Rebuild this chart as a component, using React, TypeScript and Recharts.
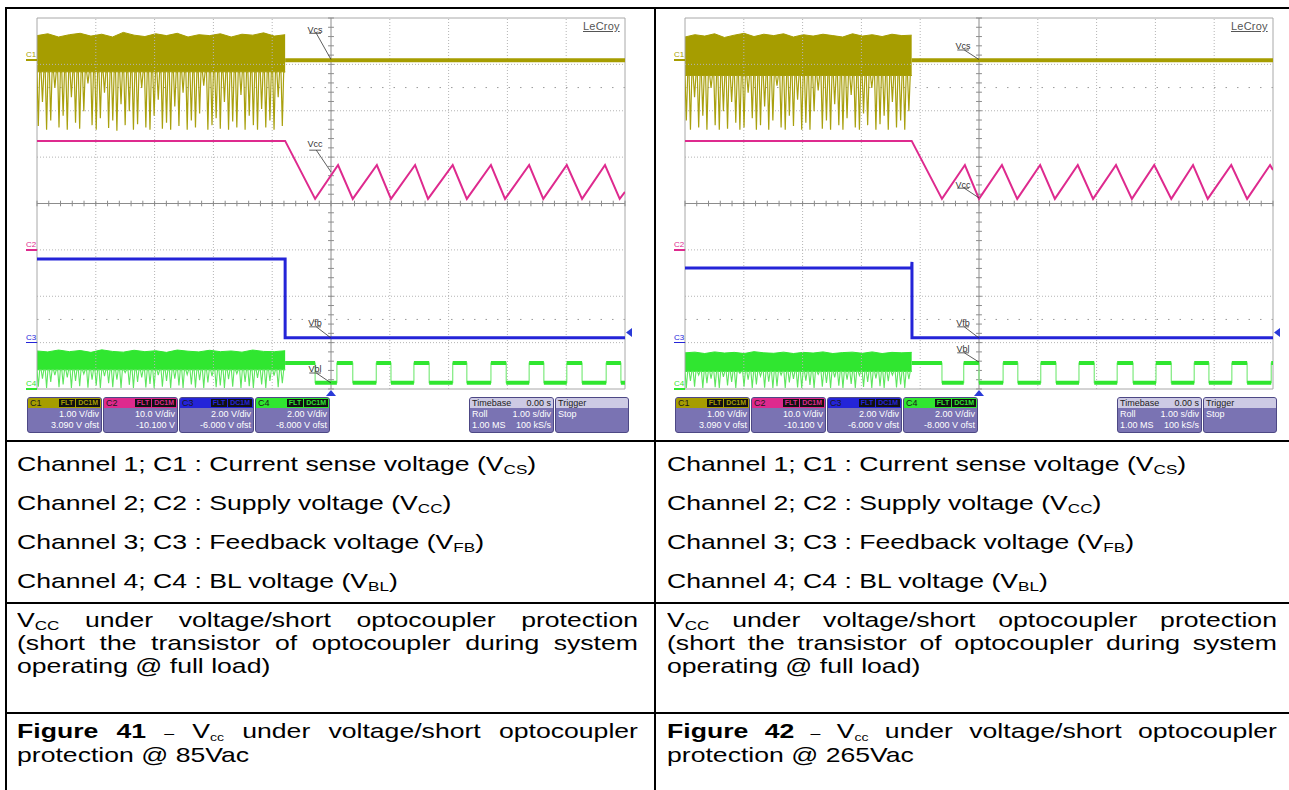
import { ComposedChart, Line, Area, XAxis, YAxis, ReferenceLine, ReferenceDot } from "recharts";

// LeCroy channel settings (as shown in the channel boxes)
const channelNames = ["C1", "C2", "C3", "C4"];
const voltsPerDiv = [1, 10, 2, 2];
const offsetVolts = [3.09, -10.1, -6, -8];
const voltsPerDivText = ["1.00 V/div", "10.0 V/div", "2.00 V/div", "2.00 V/div"];
const offsetText = ["3.090 V ofst", "-10.100 V", "-6.000 V ofst", "-8.000 V ofst"];
const traceColors = ["#a69d00", "#de2a8e", "#2424d8", "#30e630"];

// roll mode, 1 s/div, trigger in the middle
const timeDomain = [-5, 5];
const vcsIdle = 0;
const blLevels = [1.12, 0.27]; // BL on / off (V)

// ---- Figure 41 : 85Vac ----
const f41BurstEnd = -0.78;
const f41VcsTop = [0.53, 0.57, 0.5, 0.55, 0.58, 0.52, 0.56, 0.5, 0.6, 0.54, 0.51, 0.57, 0.53, 0.58, 0.5, 0.55, 0.53, 0.57, 0.5, 0.56, 0.54, 0.59, 0.52, 0.55];
const f41VcsCore = -0.25;
const f41VcsLow = [
  -1.42, -0.9, -1.5, -1.3, -0.6, -1.45, -1.2, -1.5, -0.8, -1.35,
  -1.48, -1.1, -0.5, -1.4, -1.5, -1.25, -0.7, -1.46, -1.3, -1.52,
  -0.95, -1.4, -1.1, -1.5, -1.38, -0.6, -1.45, -1.5, -1.2, -0.85,
  -1.48, -1.35, -1.5, -1.0, -1.42, -0.7, -1.5, -1.3, -1.45, -1.15,
  -0.55, -1.5, -1.4, -1.25, -1.48, -0.9, -1.5, -1.32, -1.45, -0.75,
  -1.5, -1.2, -1.4, -1.5, -1.05, -1.45, -1.3, -1.5, -0.8, -1.42,
];
const f41Vcc = [
  [-5, 23.6], [-0.78, 23.6], [-0.27, 11.1], [0.12, 18.4], [0.37, 11.1], [0.78, 18.4], [1.02, 11.1],
  [1.43, 18.4], [1.65, 11.1], [2.07, 18.4], [2.31, 11.1], [2.72, 18.4], [2.96, 11.1], [3.37, 18.4],
  [3.61, 11.1], [4.01, 18.4], [4.27, 11.1], [4.66, 18.4], [4.91, 11.1], [5, 12.6],
];
const f41Vfb = [[-5, 3.61], [-0.78, 3.61], [-0.78, 0.21], [5, 0.21]];
const f41BlTop = [1.64, 1.6, 1.68, 1.61, 1.66, 1.58, 1.69, 1.62, 1.59, 1.67, 1.61, 1.65, 1.58, 1.68, 1.63, 1.6, 1.67, 1.61, 1.64, 1.59, 1.68, 1.62, 1.61, 1.65];
const f41BlCore = 0.83;
const f41BlLow = [
  0.1, 0.45, 0.05, 0.3, 0.6, 0.08, 0.2, 0.5, 0.05, 0.35,
  0.12, 0.65, 0.06, 0.4, 0.15, 0.05, 0.55, 0.25, 0.08, 0.4,
  0.05, 0.7, 0.18, 0.05, 0.3, 0.5, 0.07, 0.22, 0.05, 0.6,
  0.1, 0.35, 0.05, 0.45, 0.15, 0.05, 0.62, 0.2, 0.06, 0.38,
  0.05, 0.28, 0.55, 0.08, 0.15, 0.05, 0.42, 0.1, 0.66, 0.05,
  0.3, 0.12, 0.05, 0.48, 0.2, 0.05, 0.35, 0.58, 0.08, 0.25,
];
const f41BlOn = [[-0.78, -0.27], [0.1, 0.37], [0.77, 1.02], [1.41, 1.67], [2.07, 2.31], [2.72, 2.98], [3.37, 3.62], [4.01, 4.27], [4.68, 4.93]];

// ---- Figure 42 : 265Vac ----
const f42BurstEnd = -1.145;
const f42VcsTop = [0.5, 0.55, 0.52, 0.57, 0.49, 0.54, 0.58, 0.51, 0.56, 0.53, 0.57, 0.5, 0.55, 0.52, 0.56, 0.53, 0.5, 0.57, 0.52, 0.55, 0.51, 0.56, 0.53, 0.54];
const f42VcsCore = -0.33;
const f42VcsLow = [
  -1.3, -1.5, -0.8, -1.45, -1.2, -1.5, -0.6, -1.4, -1.5, -1.1,
  -1.48, -0.9, -1.35, -1.5, -1.45, -0.7, -1.25, -1.5, -1.4, -1.0,
  -1.5, -1.3, -0.55, -1.45, -1.5, -1.2, -1.42, -0.85, -1.5, -1.35,
  -1.5, -1.1, -0.65, -1.48, -1.3, -1.5, -0.95, -1.4, -1.5, -1.25,
  -0.75, -1.45, -1.5, -1.15, -1.4, -0.6, -1.5, -1.38, -1.2, -1.5,
  -0.9, -1.45, -1.3, -1.5, -1.1,
];
const f42Vcc = [
  [-5, 23.6], [-1.145, 23.6], [-0.63, 11.1], [-0.24, 18.4], [0, 11.1], [0.39, 18.4], [0.65, 11.1],
  [1.04, 18.4], [1.29, 11.1], [1.68, 18.4], [1.94, 11.1], [2.33, 18.4], [2.6, 11.1], [2.98, 18.4],
  [3.27, 11.1], [3.64, 18.4], [3.89, 11.1], [4.29, 18.4], [4.56, 11.1], [4.95, 18.4], [5, 17.3],
];
const f42Vfb = [[-5, 3.22], [-1.145, 3.22], [-1.14, 3.48], [-1.14, 0.21], [5, 0.21]];
const f42BlTop = [1.56, 1.59, 1.53, 1.6, 1.55, 1.58, 1.53, 1.61, 1.56, 1.54, 1.59, 1.53, 1.58, 1.55, 1.6, 1.53, 1.57, 1.59, 1.54, 1.6, 1.53, 1.58, 1.56, 1.58];
const f42BlCore = 0.76;
const f42BlLow = [
  0.05, 0.35, 0.1, 0.6, 0.05, 0.25, 0.45, 0.08, 0.05, 0.52,
  0.15, 0.3, 0.05, 0.68, 0.1, 0.4, 0.05, 0.2, 0.55, 0.06,
  0.32, 0.05, 0.12, 0.6, 0.05, 0.28, 0.44, 0.07, 0.05, 0.36,
  0.18, 0.05, 0.63, 0.1, 0.26, 0.05, 0.5, 0.14, 0.05, 0.4,
  0.22, 0.05, 0.58, 0.09, 0.3, 0.05, 0.46, 0.12, 0.05, 0.34,
  0.6, 0.07, 0.2, 0.05, 0.42,
];
const f42BlOn = [[-1.145, -0.63], [-0.26, 0], [0.41, 0.66], [1.05, 1.31], [1.7, 1.96], [2.35, 2.62], [3.01, 3.27], [3.66, 3.91], [4.3, 4.56], [4.97, 5]];

// trace labels on the screen (y in divisions from the bottom)
const f41Notes = [
  { text: "Vcs", yText: 7.75, y0: 7.67, y1: 7.105 },
  { text: "Vcc", yText: 5.28, y0: 5.15, y1: 4.68 },
  { text: "Vfb", yText: 1.42, y0: 1.34, y1: 1.1 },
  { text: "Vbl", yText: 0.44, y0: 0.345, y1: 0.13 },
];
const f42Notes = [
  { text: "Vcs", yText: 7.39, y0: 7.31, y1: 7.105 },
  { text: "Vcc", yText: 4.41, y0: 4.33, y1: 4.12 },
  { text: "Vfb", yText: 1.42, y0: 1.34, y1: 1.1 },
  { text: "Vbl", yText: 0.86, y0: 0.78, y1: 0.58 },
];

const fig41 = { burstEnd: f41BurstEnd, vcsTop: f41VcsTop, vcsCore: f41VcsCore, vcsLow: f41VcsLow, vcc: f41Vcc, vfb: f41Vfb, blTop: f41BlTop, blCore: f41BlCore, blLow: f41BlLow, blOn: f41BlOn, notes: f41Notes };
const fig42 = { burstEnd: f42BurstEnd, vcsTop: f42VcsTop, vcsCore: f42VcsCore, vcsLow: f42VcsLow, vcc: f42Vcc, vfb: f42Vfb, blTop: f42BlTop, blCore: f42BlCore, blLow: f42BlLow, blOn: f42BlOn, notes: f42Notes };

const toPts = (pairs: number[][]) => pairs.map(([t, v]) => ({ t, v }));

// switching burst: solid core between core level and the top envelope
const band = (start: number, end: number, core: number, tops: number[]) => {
  const dt = (end - start) / (tops.length - 1);
  return tops.map((hi, j) => ({ t: start + j * dt, v: [core, hi] }));
};
// ...and the spikes below the core, one per sample
const spikes = (start: number, end: number, core: number, lows: number[]) => {
  const dt = (end - start) / lows.length;
  const pts: any[] = [];
  lows.forEach((lo, i) => {
    const t0 = start + i * dt;
    pts.push({ t: t0, v: core }, { t: t0 + 0.32 * dt, v: lo }, { t: t0 + 0.65 * dt, v: core });
  });
  pts.push({ t: end, v: core });
  return pts;
};
const pulseEdges = (on: number[][], hi: number, lo: number) => {
  const pts: any[] = [];
  on.forEach(([a, b], i) => {
    if (i > 0) pts.push({ t: a, v: lo });
    pts.push({ t: a, v: hi }, { t: b, v: hi });
    if (b < 5) pts.push({ t: b, v: lo });
  });
  if (on[on.length - 1][1] < 5) pts.push({ t: 5, v: lo });
  return pts;
};
const pulseFlats = (on: number[][], hi: number, lo: number) => {
  const pts: any[] = [];
  on.forEach(([a, b], i) => {
    pts.push({ t: a, v: hi }, { t: b, v: hi }, { t: b, v: null });
    const next = i + 1 < on.length ? on[i + 1][0] : 5;
    if (next > b) pts.push({ t: b, v: lo }, { t: next, v: lo }, { t: next, v: null });
  });
  return pts;
};

const PX = { left: 37, top: 18, w: 588, h: 371 };
const divY = (d: number) => PX.top + (8 - d) * (PX.h / 8);

const xGrid = [-4, -3, -2, -1, 1, 2, 3, 4];
const yGrid = [1, 2, 3, 5, 6, 7];
const xTicks: number[] = [];
for (let k = -25; k <= 25; k++) xTicks.push(k / 5);
const yTicks: number[] = [];
for (let k = 0; k <= 40; k++) yTicks.push(k / 5);

const lineProps = { type: "linear" as const, dot: false, activeDot: false, isAnimationActive: false, xAxisId: 0 };

function Scope({ fig, dx }: { fig: any; dx: number }) {
  const [hi, lo] = blLevels;
  const groundDiv = offsetVolts.map((o, i) => 4 + o / voltsPerDiv[i]);
  return (
    <>
      <div style={{ position: "absolute", left: 20 + dx, top: 10 }}>
        <ComposedChart width={620} height={425} margin={{ top: 8, right: 15, bottom: 46, left: 17 }}>
          <XAxis type="number" dataKey="t" domain={timeDomain} hide allowDataOverflow />
          <YAxis yAxisId="div" type="number" domain={[0, 8]} hide allowDataOverflow />
          {channelNames.map((c, i) => (
            <YAxis
              key={c}
              yAxisId={c}
              type="number"
              domain={[-offsetVolts[i] - 4 * voltsPerDiv[i], -offsetVolts[i] + 4 * voltsPerDiv[i]]}
              hide
              allowDataOverflow
            />
          ))}
          {xGrid.map((x) => (
            <ReferenceLine key={"gx" + x} yAxisId="div" x={x} stroke="#b4b4b4" strokeDasharray="1 2" />
          ))}
          {yGrid.map((y) => (
            <ReferenceLine key={"gy" + y} yAxisId="div" y={y} stroke="#b4b4b4" strokeDasharray="1 2" />
          ))}
          {[1.5, 6.5].map((y) => (
            <ReferenceLine key={"sub" + y} yAxisId="div" y={y} stroke="#9a9a9a" strokeDasharray="1.5 10" />
          ))}
          <ReferenceLine yAxisId="div" x={-5} stroke="#a8a8a8" />
          <ReferenceLine yAxisId="div" x={5} stroke="#a8a8a8" />
          <ReferenceLine yAxisId="div" y={0} stroke="#a8a8a8" />
          <ReferenceLine yAxisId="div" y={8} stroke="#a8a8a8" />
          <ReferenceLine yAxisId="div" x={0} stroke="#8c8c8c" />
          <ReferenceLine yAxisId="div" y={4} stroke="#8c8c8c" />
          {xTicks.map((x) => (
            <ReferenceLine key={"tx" + x} yAxisId="div" segment={[{ x, y: 3.94 }, { x, y: 4.06 }]} stroke="#8c8c8c" />
          ))}
          {yTicks.map((y) => (
            <ReferenceLine key={"ty" + y} yAxisId="div" segment={[{ x: -0.05, y }, { x: 0.05, y }]} stroke="#8c8c8c" />
          ))}

          {/* C1 current sense */}
          <Area data={band(-5, fig.burstEnd, fig.vcsCore, fig.vcsTop)} dataKey="v" yAxisId="C1" type="linear" fill={traceColors[0]} fillOpacity={1} stroke={traceColors[0]} strokeWidth={1} isAnimationActive={false} />
          <Line {...lineProps} data={spikes(-5, fig.burstEnd, fig.vcsCore, fig.vcsLow)} dataKey="v" yAxisId="C1" stroke="#a9a00e" strokeWidth={1.2} />
          <Line {...lineProps} data={[{ t: fig.burstEnd, v: vcsIdle }, { t: 5, v: vcsIdle }]} dataKey="v" yAxisId="C1" stroke={traceColors[0]} strokeWidth={4} />
          {/* C2 supply */}
          <Line {...lineProps} data={toPts(fig.vcc)} dataKey="v" yAxisId="C2" stroke={traceColors[1]} strokeWidth={2} />
          {/* C3 feedback */}
          <Line {...lineProps} data={toPts(fig.vfb)} dataKey="v" yAxisId="C3" stroke={traceColors[2]} strokeWidth={3} />
          {/* C4 BL */}
          <Area data={band(-5, fig.burstEnd, fig.blCore, fig.blTop)} dataKey="v" yAxisId="C4" type="linear" fill={traceColors[3]} fillOpacity={1} stroke={traceColors[3]} strokeWidth={1} isAnimationActive={false} />
          <Line {...lineProps} data={spikes(-5, fig.burstEnd, fig.blCore, fig.blLow)} dataKey="v" yAxisId="C4" stroke="#5ee65e" strokeWidth={1.1} />
          <Line {...lineProps} data={pulseEdges(fig.blOn, hi, lo)} dataKey="v" yAxisId="C4" stroke="#7eea7e" strokeWidth={1.2} />
          <Line {...lineProps} data={pulseFlats(fig.blOn, hi, lo)} dataKey="v" yAxisId="C4" stroke={traceColors[3]} strokeWidth={4} />

          {fig.notes.map((n: any) => (
            <ReferenceLine key={"l" + n.text} yAxisId="div" segment={[{ x: -0.25, y: n.y0 }, { x: 0, y: n.y1 }]} stroke="#333" strokeWidth={0.8} />
          ))}
          {fig.notes.map((n: any) => (
            <ReferenceLine key={"u" + n.text} yAxisId="div" segment={[{ x: -0.37, y: n.y0 }, { x: -0.17, y: n.y0 }]} stroke="#333" strokeWidth={0.8} />
          ))}
          {fig.notes.map((n: any) => (
            <ReferenceDot
              key={"d" + n.text}
              yAxisId="div"
              x={-0.27}
              y={n.yText}
              r={0.5}
              fill="none"
              stroke="none"
              label={{ value: n.text, position: "center", fontSize: 9, fill: "#333", fontFamily: "Liberation Sans, Arial, sans-serif" }}
            />
          ))}
        </ComposedChart>
      </div>

      {/* ground markers */}
      {channelNames.map((c, i) => {
        const gy = divY(groundDiv[i]);
        return (
          <div key={"m" + c}>
            <div style={{ position: "absolute", left: 26 + dx, top: gy - 10, fontSize: 8, lineHeight: "9px", color: traceColors[i] }}>{c}</div>
            <div style={{ position: "absolute", left: 26 + dx, top: gy - 1, width: 11, height: 1.5, background: traceColors[i] }} />
          </div>
        );
      })}

      <div style={{ position: "absolute", left: 583 + dx, top: 20, fontSize: 11, color: "#555", textDecoration: "underline", letterSpacing: 0.2 }}>LeCroy</div>

      {/* trigger markers */}
      <svg style={{ position: "absolute", left: 325 + dx, top: 389 }} width={12} height={8}>
        <polygon points="6,1 11,7 1,7" fill="#2a3ad8" />
      </svg>
      <svg style={{ position: "absolute", left: 625 + dx, top: 327 }} width={8} height={11}>
        <polygon points="1,5.5 7,1 7,10" fill="#2a3ad8" />
      </svg>

      {/* channel boxes */}
      {channelNames.map((c, i) => (
        <div
          key={"b" + c}
          style={{
            position: "absolute", left: 27 + dx + i * 76, top: 397, width: 75, height: 36, boxSizing: "border-box",
            border: "1px solid #4d4885", borderRadius: 3, background: "#7a73b3", overflow: "hidden", fontSize: 9, color: "#fff",
          }}
        >
          <div style={{ display: "flex", height: 10, background: traceColors[i], lineHeight: "10px" }}>
            <span style={{ flex: 1, paddingLeft: 2, color: "#1a1a1a" }}>{c}</span>
            <span style={{ background: "#111", color: traceColors[i], fontSize: 7, fontWeight: 700, padding: "0 2px", margin: "1px 0", lineHeight: "8px" }}>FLT</span>
            <span style={{ background: "#111", color: traceColors[i], fontSize: 7, fontWeight: 700, padding: "0 2px", margin: "1px 1px 1px 1px", lineHeight: "8px" }}>DC1M</span>
          </div>
          <div style={{ textAlign: "right", paddingRight: 2, lineHeight: "11px", paddingTop: 1 }}>
            {voltsPerDivText[i]}
            <br />
            {offsetText[i]}
          </div>
        </div>
      ))}
      <div style={{ position: "absolute", left: 469 + dx, top: 397, width: 85, height: 36, boxSizing: "border-box", border: "1px solid #4d4885", borderRadius: 3, background: "#7a73b3", overflow: "hidden", fontSize: 9, color: "#fff" }}>
        <div style={{ display: "flex", justifyContent: "space-between", height: 10, lineHeight: "10px", background: "#cdcae4", color: "#222", padding: "0 2px" }}>
          <span>Timebase</span>
          <span>0.00 s</span>
        </div>
        <div style={{ display: "flex", justifyContent: "space-between", lineHeight: "11px", padding: "1px 2px 0" }}>
          <span>Roll</span>
          <span>1.00 s/div</span>
        </div>
        <div style={{ display: "flex", justifyContent: "space-between", lineHeight: "11px", padding: "0 2px" }}>
          <span>1.00 MS</span>
          <span>100 kS/s</span>
        </div>
      </div>
      <div style={{ position: "absolute", left: 555 + dx, top: 397, width: 74, height: 36, boxSizing: "border-box", border: "1px solid #4d4885", borderRadius: 3, background: "#7a73b3", overflow: "hidden", fontSize: 9, color: "#fff" }}>
        <div style={{ height: 10, lineHeight: "10px", background: "#cdcae4", color: "#222", padding: "0 2px" }}>Trigger</div>
        <div style={{ lineHeight: "11px", padding: "1px 2px 0" }}>Stop</div>
      </div>
    </>
  );
}

const FS = 21;
const SX = 1.267;
const subStyle = { fontSize: 13.5, verticalAlign: "-3px", lineHeight: 0 };

function Ln({ x, y, w, just, children }: { x: number; y: number; w: number; just?: boolean; children: any }) {
  return (
    <div
      style={{
        position: "absolute", left: x, top: y, width: w / SX, fontSize: FS, lineHeight: "23px",
        whiteSpace: just ? "normal" : "nowrap", textAlign: just ? "justify" : "left", textAlignLast: just ? "justify" : "auto",
        transform: `scaleX(${SX})`, transformOrigin: "0 0",
      } as any}
    >
      {children}
    </div>
  );
}

function TextColumn({ x, w, figNo, vac }: { x: number; w: number; figNo: string; vac: string }) {
  const rows = [452, 491, 530, 569];
  return (
    <>
      <Ln x={x} y={rows[0]} w={w}>Channel 1; C1 : Current sense voltage (V<span style={subStyle}>CS</span>)</Ln>
      <Ln x={x} y={rows[1]} w={w}>Channel 2; C2 : Supply voltage (V<span style={subStyle}>CC</span>)</Ln>
      <Ln x={x} y={rows[2]} w={w}>Channel 3; C3 : Feedback voltage (V<span style={subStyle}>FB</span>)</Ln>
      <Ln x={x} y={rows[3]} w={w}>Channel 4; C4 : BL voltage (V<span style={subStyle}>BL</span>)</Ln>
      <Ln x={x} y={608} w={w} just>V<span style={subStyle}>CC</span> under voltage/short optocoupler protection</Ln>
      <Ln x={x} y={631} w={w} just>(short the transistor of optocoupler during system</Ln>
      <Ln x={x} y={654} w={w}>operating @ full load)</Ln>
      <Ln x={x} y={719} w={w} just>
        <b>Figure {figNo}</b> <span style={{ fontSize: 14 }}>–</span> V<span style={{ ...subStyle, fontSize: 11 }}>cc</span> under voltage/short optocoupler
      </Ln>
      <Ln x={x} y={743} w={w}>protection @ {vac}</Ln>
    </>
  );
}

export default function App() {
  const rule = "#000";
  return (
    <div style={{ position: "absolute", left: 0, top: 0, width: 1289, height: 790, background: "#fff", overflow: "hidden", fontFamily: "'Liberation Sans', Arial, sans-serif", color: "#000" }}>
      <Scope fig={fig41} dx={0} />
      <Scope fig={fig42} dx={648} />

      {/* table rules */}
      <div style={{ position: "absolute", left: 5, top: 7, width: 1284, height: 2, background: rule }} />
      <div style={{ position: "absolute", left: 5, top: 440, width: 1284, height: 2, background: rule }} />
      <div style={{ position: "absolute", left: 5, top: 602, width: 1284, height: 2, background: rule }} />
      <div style={{ position: "absolute", left: 5, top: 712, width: 1284, height: 2, background: rule }} />
      <div style={{ position: "absolute", left: 5, top: 7, width: 2, height: 783, background: rule }} />
      <div style={{ position: "absolute", left: 654, top: 7, width: 2, height: 783, background: rule }} />

      <TextColumn x={17} w={621} figNo="41" vac="85Vac" />
      <TextColumn x={667} w={610} figNo="42" vac="265Vac" />
    </div>
  );
}
